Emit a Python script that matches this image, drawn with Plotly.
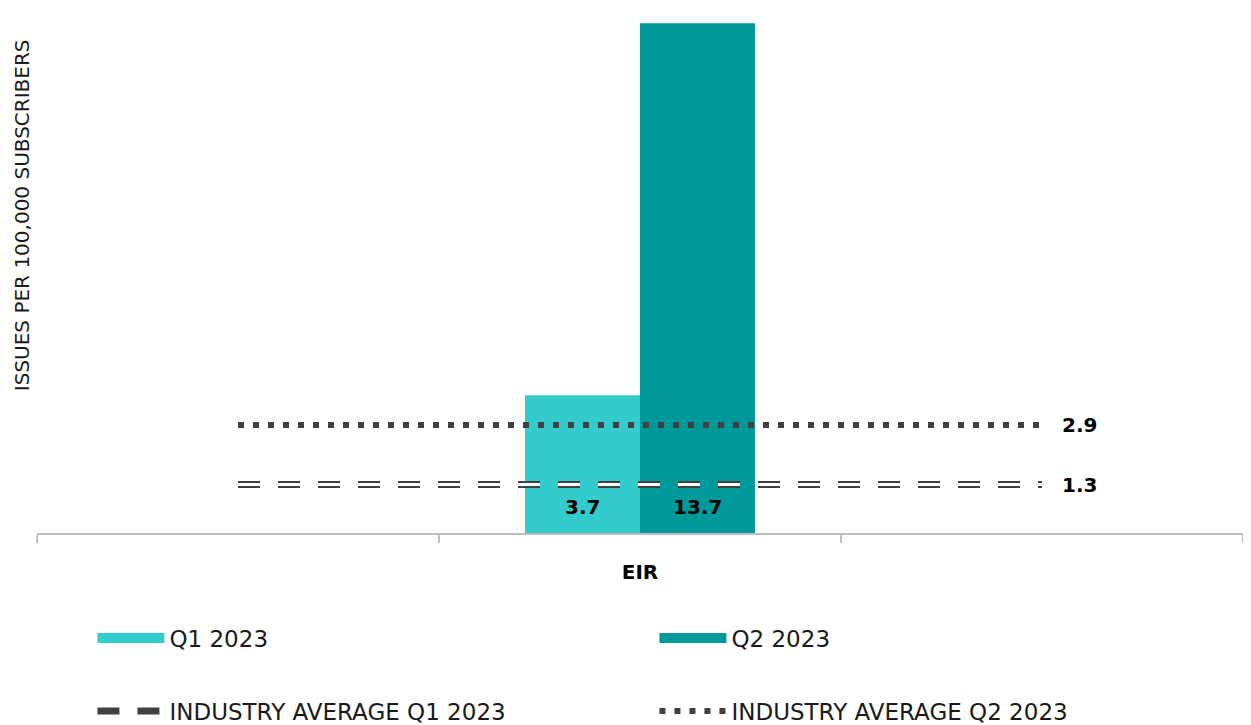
import plotly.graph_objects as go

# ---- data ----
categories = ["L", "EIR", "R"]          # placeholder slots left/right of EIR
tick_text = ["", "<b>EIR</b>", ""]
bar_names = ["Q1 2023", "Q2 2023"]
bar_values = [3.7, 13.7]
bar_colors = ["#33CCCC", "#009999"]
avg_names = ["INDUSTRY AVERAGE Q1 2023", "INDUSTRY AVERAGE Q2 2023"]
avg_values = [1.3, 2.9]
y_title = "ISSUES PER 100,000 SUBSCRIBERS"

FONT = "DejaVu Sans"
LINE_COLOR = "#404040"
W, H = 1251, 725
L, R, T, B = 29, 16, 4, 200
BARGAP = 0.428

fig = go.Figure()

# bar pixel geometry (for label placement)
slot_px = (W - L - R) / len(categories)
bar_px = slot_px * (1 - BARGAP) / len(bar_names)

# bars
for i, (name, val, col) in enumerate(zip(bar_names, bar_values, bar_colors)):
    fig.add_trace(go.Bar(
        x=["EIR"], y=[val], name=name, marker=dict(color=col, line=dict(width=0)),
        showlegend=False, legendgroup=name,
    ))
    fig.add_annotation(x="EIR", y=0, text=f"<b>{val}</b>", showarrow=False,
                       xanchor="center", yanchor="middle",
                       xshift=(i - (len(bar_names) - 1) / 2) * bar_px, yshift=26,
                       font=dict(family=FONT, size=20, color="black"))
    # legend entry (wide swatch)
    fig.add_trace(go.Scatter(
        x=[None], y=[None], mode="lines", name=name, legendgroup=name,
        line=dict(color=col, width=16), legend="legend",
    ))

# industry average Q1 - hollow dashes (dark outline + white core)
line_x = [categories[0], categories[2]]
fig.add_trace(go.Scatter(
    x=line_x, y=[avg_values[0]] * 2, mode="lines", name=avg_names[0],
    line=dict(color=LINE_COLOR, width=7, dash="22px,18px"), legend="legend2",
))
fig.add_trace(go.Scatter(
    x=line_x, y=[avg_values[0]] * 2, mode="lines", showlegend=False,
    line=dict(color="white", width=3, dash="22px,18px"), hoverinfo="skip",
))
# industry average Q2 - dotted
fig.add_trace(go.Scatter(
    x=line_x, y=[avg_values[1]] * 2, mode="lines", name=avg_names[1],
    line=dict(color=LINE_COLOR, width=6, dash="6px,9px"), legend="legend2",
))

# value labels at line ends
for v in avg_values:
    fig.add_annotation(x=categories[2], y=v, text=f"<b>{v}</b>", showarrow=False,
                       xanchor="left", yanchor="middle", xshift=18,
                       font=dict(family=FONT, size=20, color="black"))

# y-axis title
fig.add_annotation(x=0, xref="paper", xshift=-15, y=0.61, yref="paper",
                   text=y_title, textangle=-90, showarrow=False,
                   xanchor="center", yanchor="middle", borderpad=0,
                   font=dict(family=FONT, size=20, color="#1a1a1a"))

legend_font = dict(family=FONT, size=23, color="#1a1a1a")
fig.update_layout(
    width=W, height=H,
    margin=dict(l=L, r=R, t=T, b=B, autoexpand=False),
    paper_bgcolor="white", plot_bgcolor="white",
    barmode="group", bargap=BARGAP, bargroupgap=0,
    font=dict(family=FONT, color="#1a1a1a"),
    xaxis=dict(type="category", categoryorder="array", categoryarray=categories,
               tickvals=categories, ticktext=tick_text, tickson="boundaries",
               ticks="outside", ticklen=8, tickcolor="#bfbfbf", tickwidth=1.5,
               showline=True, linecolor="#bfbfbf", linewidth=1.5,
               showgrid=False, tickfont=dict(family=FONT, size=20, color="black"),
               ticklabelstandoff=20, range=[-0.5, 2.5], automargin=False),
    yaxis=dict(range=[0, 14], showgrid=False, showticklabels=False, ticks="",
               zeroline=False, showline=False, automargin=False),
    legend=dict(orientation="h", xref="container", x=0.0675, xanchor="left",
                yref="container", y=1 - 630 / H, yanchor="middle",
                entrywidth=480, itemwidth=67, font=legend_font,
                bgcolor="rgba(0,0,0,0)"),
    legend2=dict(orientation="h", xref="container", x=0.0675, xanchor="left",
                 yref="container", y=1 - 703 / H, yanchor="middle",
                 entrywidth=480, itemwidth=67, font=legend_font,
                 bgcolor="rgba(0,0,0,0)"),
    hovermode=False,
)

fig.write_html("out.html")
